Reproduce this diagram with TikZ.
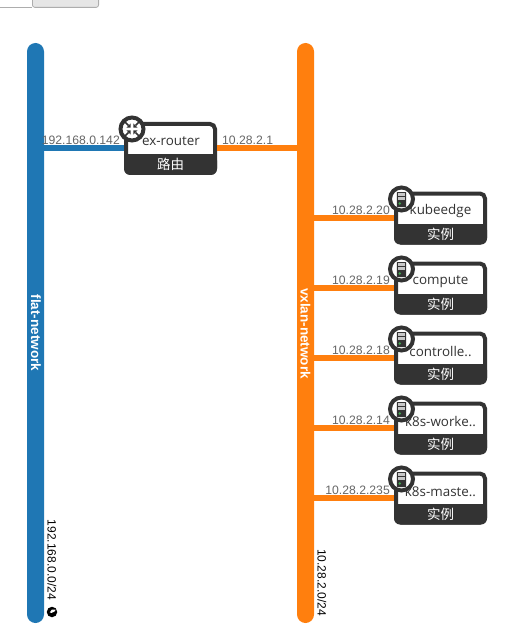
\documentclass[tikz,border=0pt]{standalone}
\usepackage{fontspec}
\setmainfont{Liberation Sans}
\newfontfamily\uifont{Open Sans}
\newfontfamily\cjk{Noto Sans CJK SC}
\definecolor{blueNet}{HTML}{1F77B4}
\definecolor{orangeNet}{HTML}{FF7F0E}
\definecolor{dark}{HTML}{333333}
\definecolor{lab}{HTML}{666666}
\definecolor{btn}{HTML}{E6E6E6}
\definecolor{btnline}{HTML}{ADADAD}
\definecolor{led}{HTML}{3FA34D}
\definecolor{panel}{HTML}{C8C8C8}
\tikzset{
  x=1pt,y=-1pt,
  netbar/.style={minimum width=17pt,minimum height=580pt,rounded corners=8.5pt,inner sep=0pt,draw=none},
  netname/.style={rotate=-90,text=white,font=\fontsize{13.5}{13}\selectfont\bfseries,inner sep=0pt},
  cidr/.style={rotate=-90,text=black,font=\fontsize{12}{12}\selectfont,inner sep=0pt},
  devbox/.style={minimum width=89pt,minimum height=49pt,inner sep=0pt,rounded corners=5pt,draw=dark,line width=4pt,fill=white},
  devname/.style={text=dark,font=\uifont\fontsize{13.4}{13}\selectfont,inner sep=0pt},
  devtype/.style={text=white,font=\cjk\fontsize{13.5}{13}\selectfont,inner sep=0pt},
  iplabel/.style={text=lab,font=\fontsize{12.2}{12}\selectfont,inner sep=0pt,anchor=base east},
  badge/.style={circle,minimum size=23pt,inner sep=0pt,draw=dark,line width=4pt,fill=white},
  link/.style={line width=6pt},
}
\newcommand{\devbase}[1]{%
  \fill[dark,rounded corners=6pt] (#1.south west) rectangle ([yshift=20.5pt]#1.south east);
  \fill[dark] ([yshift=10pt]#1.south west) rectangle ([yshift=20.5pt]#1.south east);
}
\begin{document}
\begin{tikzpicture}
\useasboundingbox (0,0) rectangle (523,639);
% top button remnant
\draw[btnline,line width=.8pt] (0,7.4) -- (32,7.4);
\draw[btnline,line width=.8pt,fill=btn,rounded corners=2.5pt] (32.4,-4) -- (32.4,7.4) -- (98.6,7.4) -- (98.6,-4);
% networks
\node[netbar,fill=blueNet] (flat) at (35.5,333) {};
\node[netbar,fill=orangeNet] (vxlan) at (305.5,333) {};
\node[netname] (flatname) at (36,333) {flat-network};
\node[netname] (vxlanname) at (305.5,333.5) {vxlan-network};
\node[cidr] (flatcidr) at (52,560) {192.168.0.0/24};
\node[cidr] (vxlancidr) at (322,582.5) {10.28.2.0/24};
\node[circle,fill=black,minimum size=10.5pt,inner sep=0pt] (globe) at (52,612) {};
\fill[white] (49.8,612.5) .. controls (50.5,609.5) and (52.5,608.8) .. (55.5,609.6) .. controls (55.8,611) and (54.5,611.5) .. (53.5,612) .. controls (52.5,612.6) and (51,613.5) .. (49.8,612.5) -- cycle;
% router
\node[devbox] (router) at (170.5,148.5) {};
\draw[link,blueNet] (flat.east |- router.west) -- (router.west);
\draw[link,orangeNet] (router.east) -- (vxlan.west |- router.east);
\devbase{router}
\node[devname] (routername) at (171,141) {ex-router};
\node[devtype] (routertype) at (170.5,164.5) {路由};
\node[iplabel] (routerip1) at (120,145) {192.168.0.142};
\node[text=lab,font=\fontsize{12.2}{12}\selectfont,inner sep=0pt,anchor=base west] (routerip2) at (222,145) {10.28.2.1};
\node[badge] (routerbadge) at (132,129) {};
\foreach \sx/\sy in {1/1,1/-1,-1/1,-1/-1}{
  \draw[dark,line width=1.6pt] (132+\sx*6.8,129+\sy*6.8) -- (132+\sx*3.5,129+\sy*3.5);
  \fill[dark] (132+\sx*1.3,129+\sy*1.3) -- (132+\sx*5.6,129+\sy*1.3) -- (132+\sx*1.3,129+\sy*5.6) -- cycle;
}
% instances
\foreach \id/\yy/\nm/\ip in {a/218/kubeedge/10.28.2.20,b/288/compute/10.28.2.19,c/358/controlle../10.28.2.18,d/428/k8s-worke../10.28.2.14,e/498/k8s-maste../10.28.2.235}{
  \node[devbox] (box\id) at (440.5,\yy) {};
  \draw[link,orangeNet] (vxlan.east |- box\id.west) -- (box\id.west);
  \devbase{box\id}
  \node[devname] (name\id) at (440.5,\yy-6.5) {\nm};
  \node[devtype] (type\id) at (440.5,\yy+16.5) {实例};
  \node[iplabel] (ip\id) at (390,\yy-3.5) {\ip};
  \node[badge] (badge\id) at (401.5,\yy-19) {};
  \fill[dark,rounded corners=.6pt] (396.8,\yy-26) rectangle (406.2,\yy-11);
  \fill[panel] (398,\yy-24.8) rectangle (405,\yy-18);
  \fill[dark] (398,\yy-22) rectangle (405,\yy-21);
  \fill[led] (399.7,\yy-14.5) circle (1.3);
}
\end{tikzpicture}
\end{document}
